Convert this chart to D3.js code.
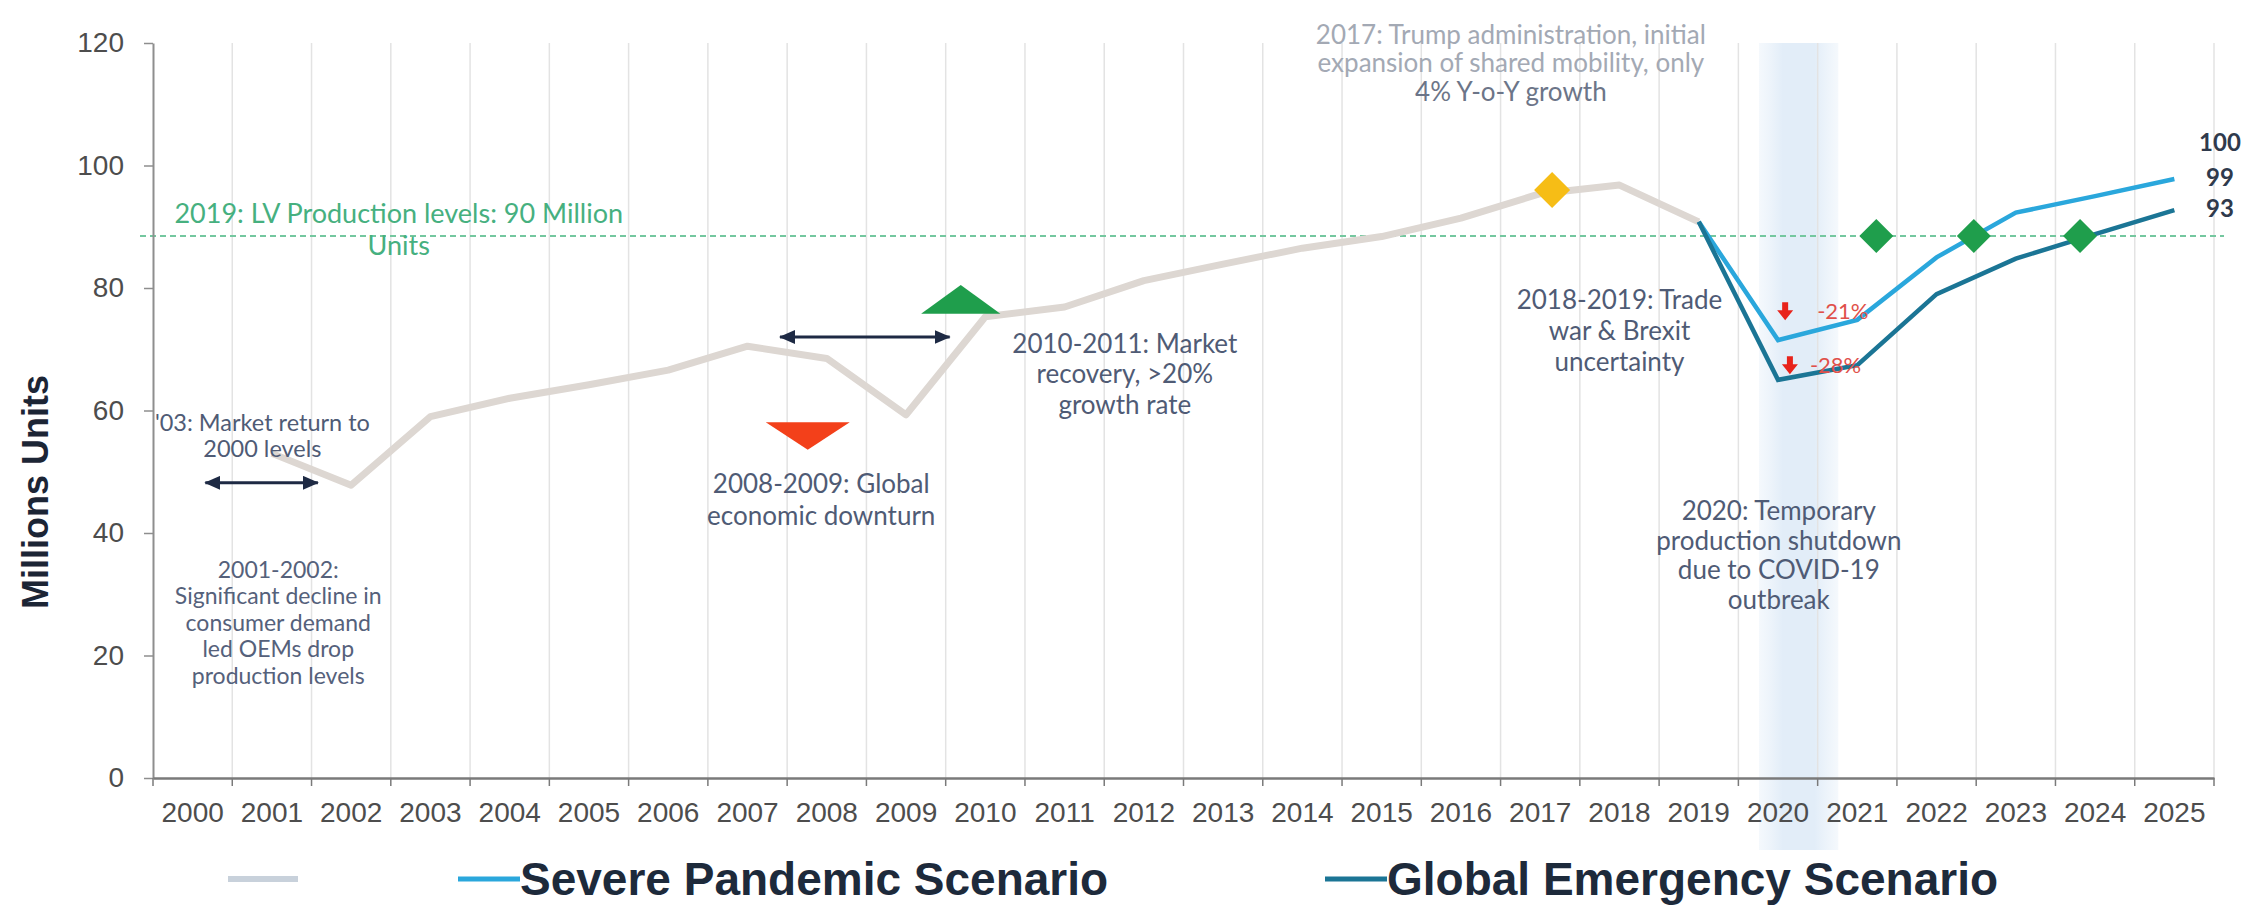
<!DOCTYPE html>
<meta charset="utf-8">
<head>
    <script src="https://d3js.org/d3.v7.min.js"></script>
    <style>
        body { margin: 0; background: #fff; }
        svg text { font-family: Lato, "Open Sans", sans-serif; }
    </style>
</head>
<body>
<div id="chart"></div>
<script>
// ---- data ----
var years = ["2000","2001","2002","2003","2004","2005","2006","2007","2008","2009","2010","2011","2012",
             "2013","2014","2015","2016","2017","2018","2019","2020","2021","2022","2023","2024","2025"];
var yTicks = [0, 20, 40, 60, 80, 100, 120];

var histYears  = [2001, 2002, 2003, 2004, 2005, 2006, 2007, 2008, 2009, 2010, 2011, 2012, 2013, 2014, 2015, 2016, 2017, 2018, 2019];
var histValues = [53, 47.8, 59, 62, 64.2, 66.6, 70.5, 68.5, 59.3, 75.3, 76.9, 81.2, 83.9, 86.5, 88.4, 91.4, 95.4, 96.8, 90.8];

var scenYears    = [2019, 2020, 2021, 2022, 2023, 2024, 2025];
var severeValues = [90.8, 71.5, 74.8, 85.0, 92.3, 95.0, 97.8];
var globalValues = [90.8, 65.0, 67.4, 79.0, 84.8, 88.8, 92.7];

var refValue = 88.5;
var refLabel = ["2019: LV Production levels: 90 Million", "Units"];

var endLabels      = ["100", "99", "93"];
var endLabelValues = [103.8, 98.0, 93.0];

var dropLabels = ["-21%", "-28%"];
var dropYears  = [2020.09, 2020.15];
var dropValues = [76.2, 67.4];

var recoveryYears = [2021.24, 2022.47, 2023.81];
var peakYear = 2017.15, peakValue = 96;

var upTri   = {year: 2009.69, base: 75.8, tip: 80.5, half: 0.5};
var downTri = {year: 2007.76, base: 58.1, tip: 53.6, half: 0.53};

var arrowSpans = [[2000.16, 2001.58, 48.2], [2007.41, 2009.55, 72]];
var shadeYears = [2019.76, 2020.76];

var annotations = [
    {year: 2016.63, value: 121.4, size: 26, lh: 28.5, color: ["#a3a9b4", "#a3a9b4", "#6c7588"],
     lines: ["2017: Trump administration, initial", "expansion of shared mobility, only", "4% Y-o-Y growth"]},
    {year: 2018.0, value: 78.0, size: 26, lh: 31, color: "#4f5b75",
     lines: ["2018-2019: Trade", "war & Brexit", "uncertainty"]},
    {year: 2011.76, value: 70.9, size: 26, lh: 30.5, color: "#4f5b75",
     lines: ["2010-2011: Market", "recovery, >20%", "growth rate"]},
    {year: 2007.93, value: 48.0, size: 26, lh: 32, color: "#4f5b75",
     lines: ["2008-2009: Global", "economic downturn"]},
    {year: 2000.88, value: 58.0, size: 23.5, lh: 26, color: "#4f5b75",
     lines: ["'03: Market return to", "2000 levels"]},
    {year: 2001.08, value: 34.0, size: 23, lh: 26.5, color: "#55617b",
     lines: ["2001-2002:", "Significant decline in", "consumer demand", "led OEMs drop", "production levels"]},
    {year: 2020.01, value: 43.6, size: 26, lh: 29.5, color: "#4f5b75",
     lines: ["2020: Temporary", "production shutdown", "due to COVID-19", "outbreak"]}
];

var legendNames  = ["", "Severe Pandemic Scenario", "Global Emergency Scenario"];
var legendColors = ["#c8d1db", "#2aa7dc", "#1b7595"];

// ---- layout ----
var width = 2267, height = 907;
var plotLeft = 153, plotRight = 2214, plotTop = 43, plotBottom = 778;

var svg = d3.select("#chart").append("svg")
    .attr("width", width)
    .attr("height", height)
    .style("background", "#fff");

var defs = svg.append("defs");
var grad = defs.append("linearGradient").attr("id", "shade");
grad.append("stop").attr("offset", "0%").attr("stop-color", "#eaf2fa").attr("stop-opacity", 0.5);
grad.append("stop").attr("offset", "30%").attr("stop-color", "#e2edf8");
grad.append("stop").attr("offset", "70%").attr("stop-color", "#e2edf8");
grad.append("stop").attr("offset", "100%").attr("stop-color", "#eaf2fa").attr("stop-opacity", 0.5);

defs.append("marker")
    .attr("id", "arrowHead")
    .attr("markerUnits", "userSpaceOnUse")
    .attr("viewBox", "0 0 16 14")
    .attr("markerWidth", 16).attr("markerHeight", 14)
    .attr("refX", 15).attr("refY", 7)
    .attr("orient", "auto-start-reverse")
  .append("path")
    .attr("d", "M0,0 L16,7 L0,14 Z")
    .attr("fill", "#1e2a44");

var x = d3.scaleBand().domain(years).range([plotLeft, plotRight]);
var bw = x.bandwidth();
var xc = d3.scaleLinear().domain([2000, 2025]).range([x("2000") + bw / 2, x("2025") + bw / 2]);
var y = d3.scaleLinear().domain([0, 120]).range([plotBottom, plotTop]);

// COVID shading
svg.append("rect")
    .attr("x", xc(shadeYears[0]))
    .attr("y", y(120))
    .attr("width", xc(shadeYears[1]) - xc(shadeYears[0]))
    .attr("height", plotBottom - y(120) + 72)
    .attr("fill", "url(#shade)");

// vertical gridlines at band edges
var edges = years.slice(1).map(function(d) { return x(d); }).concat([plotRight]);
svg.append("g").selectAll("line")
    .data(edges).enter().append("line")
    .attr("x1", function(d) { return d; }).attr("x2", function(d) { return d; })
    .attr("y1", y(120)).attr("y2", y(0))
    .attr("stroke", "#e3e3e3").attr("stroke-width", 1.5);

// reference line
svg.append("line")
    .attr("x1", plotLeft - 13).attr("x2", plotRight + 10)
    .attr("y1", y(refValue)).attr("y2", y(refValue))
    .attr("stroke", "#74c79f").attr("stroke-width", 2)
    .attr("stroke-dasharray", "6,4");

svg.append("text")
    .attr("text-anchor", "middle")
    .attr("fill", "#46b07f").style("font-size", "27px")
    .selectAll("tspan").data(refLabel).enter().append("tspan")
    .attr("x", xc(2002.6))
    .attr("y", function(d, i) { return y(92.2) + i * 32; })
    .attr("dy", "0.35em")
    .text(function(d) { return d; });

// lines
var line = d3.line()
    .x(function(d) { return xc(d[0]); })
    .y(function(d) { return y(d[1]); });

svg.append("path")
    .datum(d3.zip(histYears, histValues))
    .attr("d", line)
    .attr("fill", "none").attr("stroke", "#ddd7d2").attr("stroke-width", 7)
    .attr("stroke-linejoin", "round");

svg.append("path")
    .datum(d3.zip(scenYears, severeValues))
    .attr("d", line)
    .attr("fill", "none").attr("stroke", legendColors[1]).attr("stroke-width", 4.5);

svg.append("path")
    .datum(d3.zip(scenYears, globalValues))
    .attr("d", line)
    .attr("fill", "none").attr("stroke", legendColors[2]).attr("stroke-width", 4.5);

// diamonds
function diamond(cx, cy, r) {
    return "M" + cx + "," + (cy - r) + "L" + (cx + r) + "," + cy + "L" + cx + "," + (cy + r) + "L" + (cx - r) + "," + cy + "Z";
}
svg.append("path")
    .attr("d", diamond(xc(peakYear), y(peakValue), 18))
    .attr("fill", "#f6bd16");

svg.append("g").selectAll("path")
    .data(recoveryYears).enter().append("path")
    .attr("d", function(d) { return diamond(xc(d), y(refValue), 17); })
    .attr("fill", "#1f9e4c");

// triangles
function tri(t) {
    return "M" + xc(t.year - t.half) + "," + y(t.base) +
           "L" + xc(t.year + t.half) + "," + y(t.base) +
           "L" + xc(t.year) + "," + y(t.tip) + "Z";
}
svg.append("path").attr("d", tri(upTri)).attr("fill", "#1f9e4c");
svg.append("path").attr("d", tri(downTri)).attr("fill", "#f3401a");

// double arrows
svg.append("g").selectAll("line")
    .data(arrowSpans).enter().append("line")
    .attr("x1", function(d) { return xc(d[0]); })
    .attr("x2", function(d) { return xc(d[1]); })
    .attr("y1", function(d) { return y(d[2]); })
    .attr("y2", function(d) { return y(d[2]); })
    .attr("stroke", "#1e2a44").attr("stroke-width", 3)
    .attr("marker-start", "url(#arrowHead)")
    .attr("marker-end", "url(#arrowHead)");

// drop markers
var drops = svg.append("g").selectAll("g")
    .data(d3.zip(dropYears, dropValues, dropLabels)).enter().append("g")
    .attr("transform", function(d) { return "translate(" + xc(d[0]) + "," + y(d[1]) + ")"; });
drops.append("path")
    .attr("d", "M-3,-9 L3,-9 L3,-1 L8,-1 L0,9 L-8,-1 L-3,-1 Z")
    .attr("fill", "#e8231b");
drops.append("text")
    .attr("x", function(d, i) { return i === 0 ? 32 : 20; })
    .attr("dy", "0.35em")
    .attr("fill", "#e0504a").style("font-size", "22px")
    .text(function(d) { return d[2]; });

// end labels
svg.append("g").selectAll("text")
    .data(d3.zip(endLabels, endLabelValues)).enter().append("text")
    .attr("x", plotRight + 6).attr("y", function(d) { return y(d[1]); })
    .attr("dy", "0.35em").attr("text-anchor", "middle")
    .attr("fill", "#2f3a4c").style("font-size", "24px").style("font-weight", "bold")
    .text(function(d) { return d[0]; });

// annotations
annotations.forEach(function(a) {
    svg.append("text")
        .attr("text-anchor", "middle")
        .style("font-size", a.size + "px")
        .selectAll("tspan").data(a.lines).enter().append("tspan")
        .attr("x", xc(a.year))
        .attr("y", function(d, i) { return y(a.value) + i * a.lh; })
        .attr("dy", "0.35em")
        .attr("fill", function(d, i) { return Array.isArray(a.color) ? a.color[i] : a.color; })
        .text(function(d) { return d; });
});

// axes
var yAxis = svg.append("g")
    .attr("transform", "translate(" + plotLeft + ",0)")
    .call(d3.axisLeft(y).tickValues(yTicks).tickSize(9).tickSizeOuter(0).tickPadding(20));
yAxis.select(".domain").attr("stroke", "#8e8e8e").attr("stroke-width", 2);
yAxis.selectAll(".tick line").attr("stroke", "#8e8e8e").attr("stroke-width", 1.5);
yAxis.selectAll("text")
    .style("font-family", "'Liberation Sans', Arial, sans-serif")
    .style("font-size", "28px").attr("fill", "#4d4d4d");

var xAxis = svg.append("g")
    .attr("transform", "translate(0," + plotBottom + ")")
    .call(d3.axisBottom(x).tickSize(0).tickPadding(24));
xAxis.select(".domain").attr("stroke", "#7a7a7a").attr("stroke-width", 2.5);
xAxis.selectAll("text")
    .style("font-family", "'Liberation Sans', Arial, sans-serif")
    .style("font-size", "28px").attr("fill", "#4d4d4d");

xAxis.selectAll(".edge")
    .data([plotLeft].concat(edges)).enter().append("line")
    .attr("class", "edge")
    .attr("x1", function(d) { return d; }).attr("x2", function(d) { return d; })
    .attr("y1", 0).attr("y2", 8)
    .attr("stroke", "#7a7a7a").attr("stroke-width", 1.5);

// y title
svg.append("text")
    .attr("transform", "translate(48,492) rotate(-90)")
    .attr("text-anchor", "middle")
    .style("font-family", "'Liberation Sans', Arial, sans-serif")
    .style("font-size", "36px").style("font-weight", "bold")
    .attr("fill", "#1c2535")
    .text("Millions Units");

// legend
var legendY = 879;
var legendX = [228, 458, 1325];
var legend = svg.append("g");
legend.append("line")
    .attr("x1", legendX[0]).attr("x2", legendX[0] + 70)
    .attr("y1", legendY).attr("y2", legendY)
    .attr("stroke", legendColors[0]).attr("stroke-width", 6);
[1, 2].forEach(function(i) {
    legend.append("line")
        .attr("x1", legendX[i]).attr("x2", legendX[i] + 62)
        .attr("y1", legendY).attr("y2", legendY)
        .attr("stroke", legendColors[i]).attr("stroke-width", 5);
    legend.append("text")
        .attr("x", legendX[i] + 62).attr("y", legendY)
        .attr("dy", "0.35em")
        .style("font-family", "'Liberation Sans', Arial, sans-serif")
        .style("font-size", "46px").style("font-weight", "bold")
        .attr("fill", "#1d2a3b")
        .text(legendNames[i]);
});
</script>
</body>
